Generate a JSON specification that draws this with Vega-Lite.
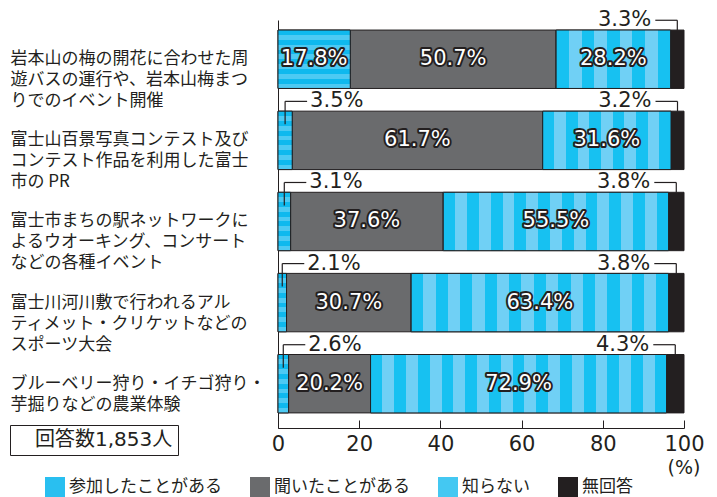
{
  "$schema": "https://vega.github.io/schema/vega-lite/v6.json",
  "width": 406,
  "height": 408,
  "autosize": "none",
  "padding": {"left": 278, "top": 20, "right": 33, "bottom": 69},
  "background": "white",
  "config": {"view": {"stroke": null}, "font": "DejaVu Sans"},
  "data": {"values": [
    {"item": "岩本山の梅の開花に合わせた周\n遊バスの運行や、岩本山梅まつ\nりでのイベント開催", "q": "参加したことがある", "value": 17.8},
    {"item": "岩本山の梅の開花に合わせた周\n遊バスの運行や、岩本山梅まつ\nりでのイベント開催", "q": "聞いたことがある", "value": 50.7},
    {"item": "岩本山の梅の開花に合わせた周\n遊バスの運行や、岩本山梅まつ\nりでのイベント開催", "q": "知らない", "value": 28.2},
    {"item": "岩本山の梅の開花に合わせた周\n遊バスの運行や、岩本山梅まつ\nりでのイベント開催", "q": "無回答", "value": 3.3},
    {"item": "富士山百景写真コンテスト及び\nコンテスト作品を利用した富士\n市の PR", "q": "参加したことがある", "value": 3.5},
    {"item": "富士山百景写真コンテスト及び\nコンテスト作品を利用した富士\n市の PR", "q": "聞いたことがある", "value": 61.7},
    {"item": "富士山百景写真コンテスト及び\nコンテスト作品を利用した富士\n市の PR", "q": "知らない", "value": 31.6},
    {"item": "富士山百景写真コンテスト及び\nコンテスト作品を利用した富士\n市の PR", "q": "無回答", "value": 3.2},
    {"item": "富士市まちの駅ネットワークに\nよるウオーキング、コンサート\nなどの各種イベント", "q": "参加したことがある", "value": 3.1},
    {"item": "富士市まちの駅ネットワークに\nよるウオーキング、コンサート\nなどの各種イベント", "q": "聞いたことがある", "value": 37.6},
    {"item": "富士市まちの駅ネットワークに\nよるウオーキング、コンサート\nなどの各種イベント", "q": "知らない", "value": 55.5},
    {"item": "富士市まちの駅ネットワークに\nよるウオーキング、コンサート\nなどの各種イベント", "q": "無回答", "value": 3.8},
    {"item": "富士川河川敷で行われるアル\nティメット・クリケットなどの\nスポーツ大会", "q": "参加したことがある", "value": 2.1},
    {"item": "富士川河川敷で行われるアル\nティメット・クリケットなどの\nスポーツ大会", "q": "聞いたことがある", "value": 30.7},
    {"item": "富士川河川敷で行われるアル\nティメット・クリケットなどの\nスポーツ大会", "q": "知らない", "value": 63.4},
    {"item": "富士川河川敷で行われるアル\nティメット・クリケットなどの\nスポーツ大会", "q": "無回答", "value": 3.8},
    {"item": "ブルーベリー狩り・イチゴ狩り・\n芋掘りなどの農業体験", "q": "参加したことがある", "value": 2.6},
    {"item": "ブルーベリー狩り・イチゴ狩り・\n芋掘りなどの農業体験", "q": "聞いたことがある", "value": 20.2},
    {"item": "ブルーベリー狩り・イチゴ狩り・\n芋掘りなどの農業体験", "q": "知らない", "value": 72.9},
    {"item": "ブルーベリー狩り・イチゴ狩り・\n芋掘りなどの農業体験", "q": "無回答", "value": 4.3}
  ]},
  "transform": [
    {"calculate": "indexof(['参加したことがある','聞いたことがある','知らない','無回答'], datum.q)", "as": "ord"},
    {"stack": "value", "groupby": ["item"], "sort": [{"field": "ord", "order": "ascending"}], "as": ["v0", "v1"]},
    {"calculate": "(datum.v0 + datum.v1) / 2", "as": "mid"},
    {"calculate": "format(datum.value, '.1f') + '%'", "as": "lab"}
  ],
  "encoding": {
    "y": {
      "field": "item", "type": "nominal", "sort": null,
      "scale": {"paddingInner": 0.28, "paddingOuter": 0.155, "align": 0.4},
      "axis": {
        "title": null, "ticks": false, "domain": true, "domainColor": "#231f20", "domainWidth": 1,
        "labelAlign": "left", "labelPadding": 268, "labelFontSize": 17, "labelFont": "Noto Sans CJK JP",
        "labelLineHeight": 21, "labelColor": "#231f20", "labelLimit": 400, "labelBaseline": "middle",
        "labelExpr": "split(datum.label, '\\n')"
      }
    }
  },
  "layer": [
    {
      "mark": {"type": "bar", "stroke": "#231f20", "strokeWidth": 1},
      "encoding": {
        "x": {
          "field": "v0", "type": "quantitative", "scale": {"domain": [0, 100]},
          "axis": {
            "values": [0, 20, 40, 60, 80, 100], "tickSize": -8, "labelPadding": 13, "labelFontSize": 21,
            "labelFont": "DejaVu Sans", "labelColor": "#231f20", "domainColor": "#231f20", "tickColor": "#231f20",
            "grid": false, "labelFlush": false, "title": "(%)", "titleFont": "DejaVu Sans", "titleFontSize": 19,
            "titleFontWeight": "normal", "titleX": 422, "titleY": 39, "titleAlign": "right", "titleAnchor": null,
            "titleBaseline": "middle", "titleColor": "#231f20"
          }
        },
        "x2": {"field": "v1"},
        "color": {
          "field": "q", "type": "nominal",
          "scale": {"domain": ["参加したことがある", "聞いたことがある", "知らない", "無回答"], "range": ["#29bff0", "#6a6b6d", "#44c8f2", "#231f20"]},
          "legend": {
            "orient": "none", "legendX": -233, "legendY": 457, "direction": "horizontal", "title": null,
            "symbolType": "square", "symbolSize": 400, "symbolStrokeWidth": 0, "labelFontSize": 17,
            "labelFont": "Noto Sans CJK JP", "labelColor": "#231f20", "columnPadding": 28, "labelOffset": 4, "symbolOpacity": 1
          }
        }
      }
    },
    {
      "transform": [{"filter": "datum.q == '参加したことがある'"}],
      "mark": {"type": "bar", "stroke": "#231f20", "strokeWidth": 1,
        "fill": {"gradient": "linear", "x1": 0, "y1": 0, "x2": 0, "y2": 1, "stops": [
          {"offset": 0, "color": "#0fb9ee"}, {"offset": 0.0833, "color": "#0fb9ee"},
          {"offset": 0.0833, "color": "#4dcaf3"}, {"offset": 0.1667, "color": "#4dcaf3"},
          {"offset": 0.1667, "color": "#0fb9ee"}, {"offset": 0.25, "color": "#0fb9ee"},
          {"offset": 0.25, "color": "#4dcaf3"}, {"offset": 0.3333, "color": "#4dcaf3"},
          {"offset": 0.3333, "color": "#0fb9ee"}, {"offset": 0.4167, "color": "#0fb9ee"},
          {"offset": 0.4167, "color": "#4dcaf3"}, {"offset": 0.5, "color": "#4dcaf3"},
          {"offset": 0.5, "color": "#0fb9ee"}, {"offset": 0.5833, "color": "#0fb9ee"},
          {"offset": 0.5833, "color": "#4dcaf3"}, {"offset": 0.6667, "color": "#4dcaf3"},
          {"offset": 0.6667, "color": "#0fb9ee"}, {"offset": 0.75, "color": "#0fb9ee"},
          {"offset": 0.75, "color": "#4dcaf3"}, {"offset": 0.8333, "color": "#4dcaf3"},
          {"offset": 0.8333, "color": "#0fb9ee"}, {"offset": 0.9167, "color": "#0fb9ee"},
          {"offset": 0.9167, "color": "#4dcaf3"}, {"offset": 1, "color": "#4dcaf3"}
        ]}},
      "encoding": {"x": {"field": "v0", "type": "quantitative"}, "x2": {"field": "v1"}}
    },
    {
      "transform": [{"filter": "datum.q == '知らない'"}],
      "mark": {"type": "bar", "stroke": "#231f20", "strokeWidth": 1},
      "encoding": {
        "x": {"field": "v0", "type": "quantitative"}, "x2": {"field": "v1"},
        "fill": {
          "condition": [
            {"test": "datum.value < 30", "value": {"gradient": "linear", "x1": 0, "y1": 0, "x2": 1, "y2": 0, "stops": [
              {"offset": 0, "color": "#17c1f1"}, {"offset": 0.1111, "color": "#17c1f1"},
              {"offset": 0.1111, "color": "#70d0f5"}, {"offset": 0.2222, "color": "#70d0f5"},
              {"offset": 0.2222, "color": "#17c1f1"}, {"offset": 0.3333, "color": "#17c1f1"},
              {"offset": 0.3333, "color": "#70d0f5"}, {"offset": 0.4444, "color": "#70d0f5"},
              {"offset": 0.4444, "color": "#17c1f1"}, {"offset": 0.5556, "color": "#17c1f1"},
              {"offset": 0.5556, "color": "#70d0f5"}, {"offset": 0.6667, "color": "#70d0f5"},
              {"offset": 0.6667, "color": "#17c1f1"}, {"offset": 0.7778, "color": "#17c1f1"},
              {"offset": 0.7778, "color": "#70d0f5"}, {"offset": 0.8889, "color": "#70d0f5"},
              {"offset": 0.8889, "color": "#17c1f1"}, {"offset": 1, "color": "#17c1f1"}
            ]}},
            {"test": "datum.value < 40", "value": {"gradient": "linear", "x1": 0, "y1": 0, "x2": 1, "y2": 0, "stops": [
              {"offset": 0, "color": "#17c1f1"}, {"offset": 0.0909, "color": "#17c1f1"},
              {"offset": 0.0909, "color": "#70d0f5"}, {"offset": 0.1818, "color": "#70d0f5"},
              {"offset": 0.1818, "color": "#17c1f1"}, {"offset": 0.2727, "color": "#17c1f1"},
              {"offset": 0.2727, "color": "#70d0f5"}, {"offset": 0.3636, "color": "#70d0f5"},
              {"offset": 0.3636, "color": "#17c1f1"}, {"offset": 0.4545, "color": "#17c1f1"},
              {"offset": 0.4545, "color": "#70d0f5"}, {"offset": 0.5455, "color": "#70d0f5"},
              {"offset": 0.5455, "color": "#17c1f1"}, {"offset": 0.6364, "color": "#17c1f1"},
              {"offset": 0.6364, "color": "#70d0f5"}, {"offset": 0.7273, "color": "#70d0f5"},
              {"offset": 0.7273, "color": "#17c1f1"}, {"offset": 0.8182, "color": "#17c1f1"},
              {"offset": 0.8182, "color": "#70d0f5"}, {"offset": 0.9091, "color": "#70d0f5"},
              {"offset": 0.9091, "color": "#17c1f1"}, {"offset": 1, "color": "#17c1f1"}
            ]}},
            {"test": "datum.value < 60", "value": {"gradient": "linear", "x1": 0, "y1": 0, "x2": 1, "y2": 0, "stops": [
              {"offset": 0, "color": "#17c1f1"}, {"offset": 0.0526, "color": "#17c1f1"},
              {"offset": 0.0526, "color": "#70d0f5"}, {"offset": 0.1053, "color": "#70d0f5"},
              {"offset": 0.1053, "color": "#17c1f1"}, {"offset": 0.1579, "color": "#17c1f1"},
              {"offset": 0.1579, "color": "#70d0f5"}, {"offset": 0.2105, "color": "#70d0f5"},
              {"offset": 0.2105, "color": "#17c1f1"}, {"offset": 0.2632, "color": "#17c1f1"},
              {"offset": 0.2632, "color": "#70d0f5"}, {"offset": 0.3158, "color": "#70d0f5"},
              {"offset": 0.3158, "color": "#17c1f1"}, {"offset": 0.3684, "color": "#17c1f1"},
              {"offset": 0.3684, "color": "#70d0f5"}, {"offset": 0.4211, "color": "#70d0f5"},
              {"offset": 0.4211, "color": "#17c1f1"}, {"offset": 0.4737, "color": "#17c1f1"},
              {"offset": 0.4737, "color": "#70d0f5"}, {"offset": 0.5263, "color": "#70d0f5"},
              {"offset": 0.5263, "color": "#17c1f1"}, {"offset": 0.5789, "color": "#17c1f1"},
              {"offset": 0.5789, "color": "#70d0f5"}, {"offset": 0.6316, "color": "#70d0f5"},
              {"offset": 0.6316, "color": "#17c1f1"}, {"offset": 0.6842, "color": "#17c1f1"},
              {"offset": 0.6842, "color": "#70d0f5"}, {"offset": 0.7368, "color": "#70d0f5"},
              {"offset": 0.7368, "color": "#17c1f1"}, {"offset": 0.7895, "color": "#17c1f1"},
              {"offset": 0.7895, "color": "#70d0f5"}, {"offset": 0.8421, "color": "#70d0f5"},
              {"offset": 0.8421, "color": "#17c1f1"}, {"offset": 0.8947, "color": "#17c1f1"},
              {"offset": 0.8947, "color": "#70d0f5"}, {"offset": 0.9474, "color": "#70d0f5"},
              {"offset": 0.9474, "color": "#17c1f1"}, {"offset": 1, "color": "#17c1f1"}
            ]}},
            {"test": "datum.value < 70", "value": {"gradient": "linear", "x1": 0, "y1": 0, "x2": 1, "y2": 0, "stops": [
              {"offset": 0, "color": "#17c1f1"}, {"offset": 0.0476, "color": "#17c1f1"},
              {"offset": 0.0476, "color": "#70d0f5"}, {"offset": 0.0952, "color": "#70d0f5"},
              {"offset": 0.0952, "color": "#17c1f1"}, {"offset": 0.1429, "color": "#17c1f1"},
              {"offset": 0.1429, "color": "#70d0f5"}, {"offset": 0.1905, "color": "#70d0f5"},
              {"offset": 0.1905, "color": "#17c1f1"}, {"offset": 0.2381, "color": "#17c1f1"},
              {"offset": 0.2381, "color": "#70d0f5"}, {"offset": 0.2857, "color": "#70d0f5"},
              {"offset": 0.2857, "color": "#17c1f1"}, {"offset": 0.3333, "color": "#17c1f1"},
              {"offset": 0.3333, "color": "#70d0f5"}, {"offset": 0.381, "color": "#70d0f5"},
              {"offset": 0.381, "color": "#17c1f1"}, {"offset": 0.4286, "color": "#17c1f1"},
              {"offset": 0.4286, "color": "#70d0f5"}, {"offset": 0.4762, "color": "#70d0f5"},
              {"offset": 0.4762, "color": "#17c1f1"}, {"offset": 0.5238, "color": "#17c1f1"},
              {"offset": 0.5238, "color": "#70d0f5"}, {"offset": 0.5714, "color": "#70d0f5"},
              {"offset": 0.5714, "color": "#17c1f1"}, {"offset": 0.619, "color": "#17c1f1"},
              {"offset": 0.619, "color": "#70d0f5"}, {"offset": 0.6667, "color": "#70d0f5"},
              {"offset": 0.6667, "color": "#17c1f1"}, {"offset": 0.7143, "color": "#17c1f1"},
              {"offset": 0.7143, "color": "#70d0f5"}, {"offset": 0.7619, "color": "#70d0f5"},
              {"offset": 0.7619, "color": "#17c1f1"}, {"offset": 0.8095, "color": "#17c1f1"},
              {"offset": 0.8095, "color": "#70d0f5"}, {"offset": 0.8571, "color": "#70d0f5"},
              {"offset": 0.8571, "color": "#17c1f1"}, {"offset": 0.9048, "color": "#17c1f1"},
              {"offset": 0.9048, "color": "#70d0f5"}, {"offset": 0.9524, "color": "#70d0f5"},
              {"offset": 0.9524, "color": "#17c1f1"}, {"offset": 1, "color": "#17c1f1"}
            ]}}
          ],
          "value": {"gradient": "linear", "x1": 0, "y1": 0, "x2": 1, "y2": 0, "stops": [
            {"offset": 0, "color": "#17c1f1"}, {"offset": 0.04, "color": "#17c1f1"},
            {"offset": 0.04, "color": "#70d0f5"}, {"offset": 0.08, "color": "#70d0f5"},
            {"offset": 0.08, "color": "#17c1f1"}, {"offset": 0.12, "color": "#17c1f1"},
            {"offset": 0.12, "color": "#70d0f5"}, {"offset": 0.16, "color": "#70d0f5"},
            {"offset": 0.16, "color": "#17c1f1"}, {"offset": 0.2, "color": "#17c1f1"},
            {"offset": 0.2, "color": "#70d0f5"}, {"offset": 0.24, "color": "#70d0f5"},
            {"offset": 0.24, "color": "#17c1f1"}, {"offset": 0.28, "color": "#17c1f1"},
            {"offset": 0.28, "color": "#70d0f5"}, {"offset": 0.32, "color": "#70d0f5"},
            {"offset": 0.32, "color": "#17c1f1"}, {"offset": 0.36, "color": "#17c1f1"},
            {"offset": 0.36, "color": "#70d0f5"}, {"offset": 0.4, "color": "#70d0f5"},
            {"offset": 0.4, "color": "#17c1f1"}, {"offset": 0.44, "color": "#17c1f1"},
            {"offset": 0.44, "color": "#70d0f5"}, {"offset": 0.48, "color": "#70d0f5"},
            {"offset": 0.48, "color": "#17c1f1"}, {"offset": 0.52, "color": "#17c1f1"},
            {"offset": 0.52, "color": "#70d0f5"}, {"offset": 0.56, "color": "#70d0f5"},
            {"offset": 0.56, "color": "#17c1f1"}, {"offset": 0.6, "color": "#17c1f1"},
            {"offset": 0.6, "color": "#70d0f5"}, {"offset": 0.64, "color": "#70d0f5"},
            {"offset": 0.64, "color": "#17c1f1"}, {"offset": 0.68, "color": "#17c1f1"},
            {"offset": 0.68, "color": "#70d0f5"}, {"offset": 0.72, "color": "#70d0f5"},
            {"offset": 0.72, "color": "#17c1f1"}, {"offset": 0.76, "color": "#17c1f1"},
            {"offset": 0.76, "color": "#70d0f5"}, {"offset": 0.8, "color": "#70d0f5"},
            {"offset": 0.8, "color": "#17c1f1"}, {"offset": 0.84, "color": "#17c1f1"},
            {"offset": 0.84, "color": "#70d0f5"}, {"offset": 0.88, "color": "#70d0f5"},
            {"offset": 0.88, "color": "#17c1f1"}, {"offset": 0.92, "color": "#17c1f1"},
            {"offset": 0.92, "color": "#70d0f5"}, {"offset": 0.96, "color": "#70d0f5"},
            {"offset": 0.96, "color": "#17c1f1"}, {"offset": 1, "color": "#17c1f1"}
          ]}
        }
      }
    },
    {
      "transform": [{"filter": "datum.value >= 5"}],
      "mark": {"type": "text", "font": "DejaVu Sans", "fontSize": 21, "fill": "#231f20", "stroke": "#231f20", "strokeWidth": 4, "strokeJoin": "round", "baseline": "middle", "align": "center"},
      "encoding": {"x": {"field": "mid", "type": "quantitative"}, "text": {"field": "lab"}}
    },
    {
      "transform": [{"filter": "datum.value >= 5"}],
      "mark": {"type": "text", "font": "DejaVu Sans", "fontSize": 21, "fill": "white", "baseline": "middle", "align": "center"},
      "encoding": {"x": {"field": "mid", "type": "quantitative"}, "text": {"field": "lab"}}
    },
    {
      "transform": [{"filter": "datum.q == '参加したことがある' && datum.value < 5"}],
      "mark": {"type": "text", "font": "DejaVu Sans", "fontSize": 21, "fill": "#231f20", "baseline": "middle", "align": "left", "xOffset": 25, "yOffset": -39},
      "encoding": {"x": {"field": "mid", "type": "quantitative"}, "text": {"field": "lab"}}
    },
    {
      "transform": [{"filter": "datum.q == '無回答'"}],
      "mark": {"type": "text", "font": "DejaVu Sans", "fontSize": 21, "fill": "#231f20", "baseline": "middle", "align": "right", "xOffset": -26, "yOffset": -39},
      "encoding": {"x": {"field": "mid", "type": "quantitative"}, "text": {"field": "lab"}}
    },
    {
      "transform": [{"filter": "datum.q == '参加したことがある' && datum.value < 5"}],
      "mark": {"type": "rule", "stroke": "#231f20", "strokeWidth": 1.2, "yOffset": -39, "y2Offset": -16},
      "encoding": {"x": {"field": "mid", "type": "quantitative"}, "y2": {"field": "item"}}
    },
    {
      "transform": [{"filter": "datum.q == '参加したことがある' && datum.value < 5"}],
      "mark": {"type": "rule", "stroke": "#231f20", "strokeWidth": 1.2, "yOffset": -39, "x2Offset": 22},
      "encoding": {"x": {"field": "mid", "type": "quantitative"}, "x2": {"field": "mid"}}
    },
    {
      "transform": [{"filter": "datum.q == '無回答'"}],
      "mark": {"type": "rule", "stroke": "#231f20", "strokeWidth": 1.2, "yOffset": -39, "y2Offset": -29},
      "encoding": {"x": {"field": "mid", "type": "quantitative"}, "y2": {"field": "item"}}
    },
    {
      "transform": [{"filter": "datum.q == '無回答'"}],
      "mark": {"type": "rule", "stroke": "#231f20", "strokeWidth": 1.2, "yOffset": -39, "x2Offset": -22},
      "encoding": {"x": {"field": "mid", "type": "quantitative"}, "x2": {"field": "mid"}}
    },
    {
      "transform": [{"filter": "datum.ord == 0"}],
      "mark": {"type": "point", "opacity": 0},
      "encoding": {
        "shape": {
          "datum": "回答数1,853人",
          "legend": {
            "orient": "none", "legendX": -268, "legendY": 405, "title": null, "symbolSize": 0, "symbolOpacity": 0,
            "labelOffset": 0, "labelFontSize": 20, "labelFont": "DejaVu Sans, Noto Sans CJK JP", "labelColor": "#231f20",
            "strokeColor": "#231f20", "padding": 5, "labelLimit": 300
          }
        }
      }
    }
  ]
}
